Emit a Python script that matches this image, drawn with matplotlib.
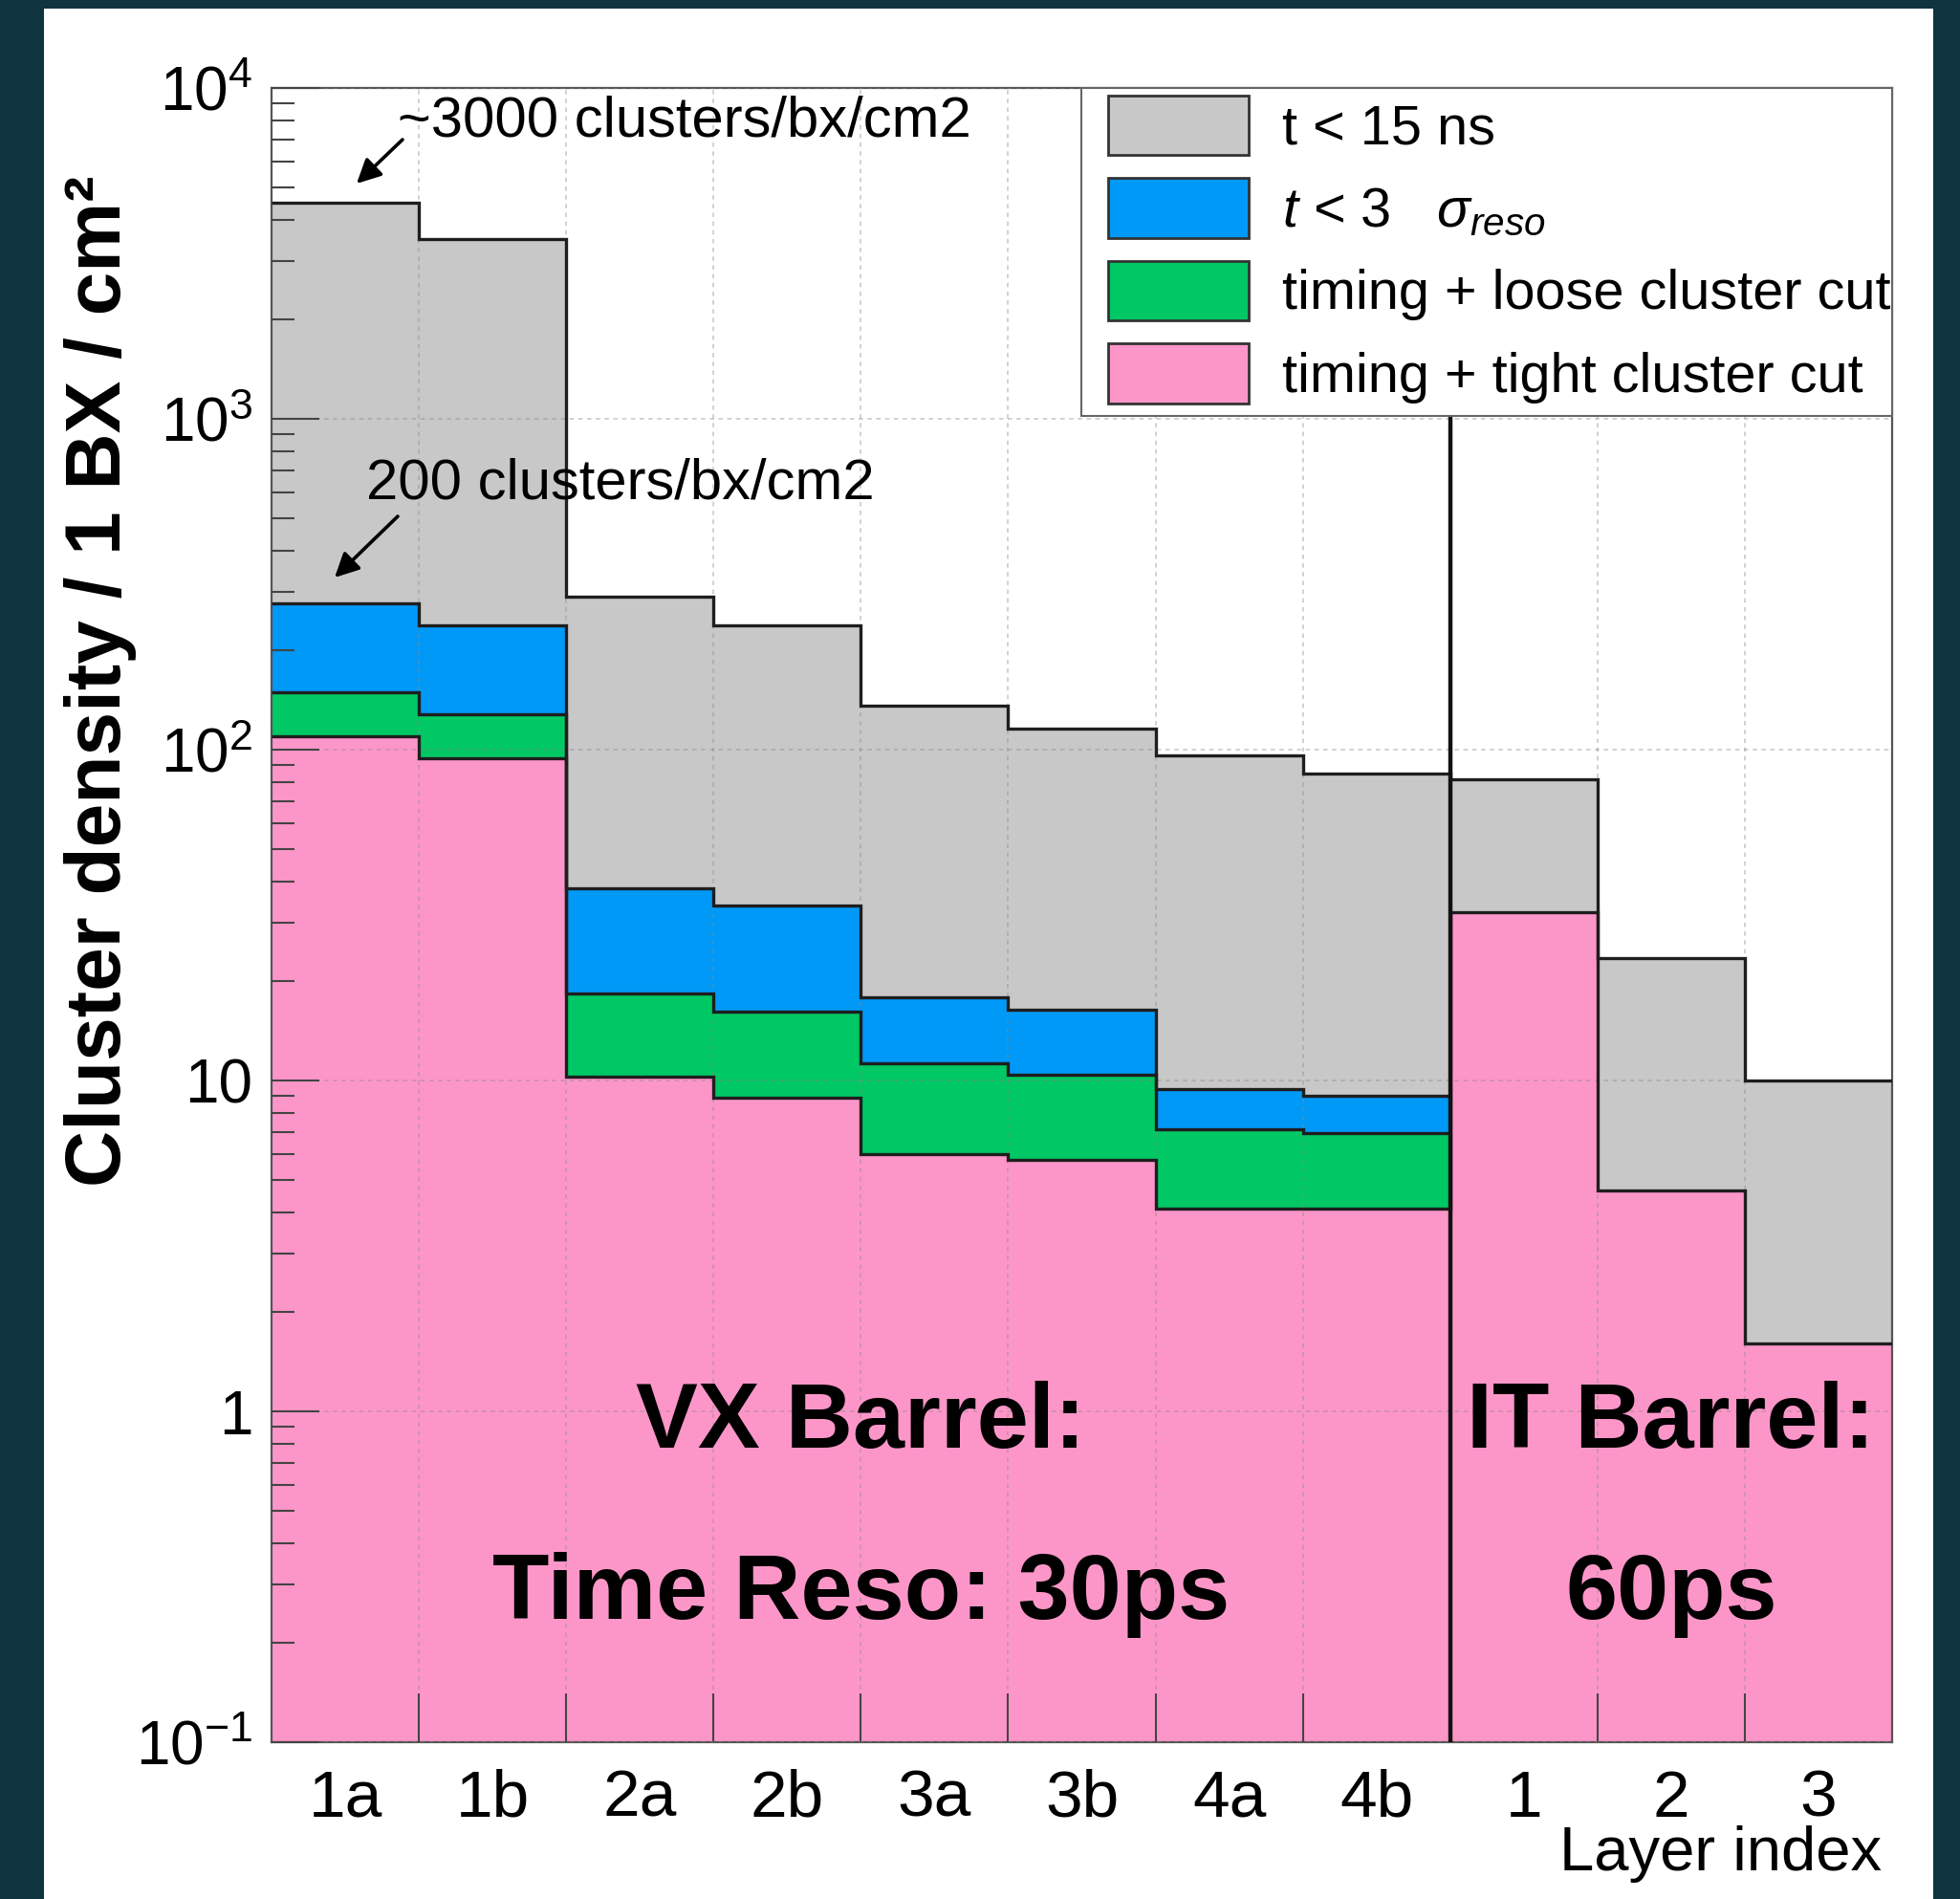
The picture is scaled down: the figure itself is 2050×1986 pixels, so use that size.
import numpy as np
import matplotlib

matplotlib.use("Agg")
import matplotlib.pyplot as plt
from matplotlib.patches import Patch, Rectangle, FancyArrowPatch
from matplotlib.ticker import LogLocator, NullFormatter

plt.rcParams.update({
    "font.family": ["Liberation Sans", "DejaVu Sans"],
    "mathtext.fontset": "custom",
    "mathtext.rm": "Liberation Sans",
    "mathtext.it": "Liberation Sans:italic",
    "mathtext.bf": "Liberation Sans:bold",
})

# ---- data ----
layers = ["1a", "1b", "2a", "2b", "3a", "3b", "4a", "4b", "1", "2", "3"]
n_vx = 8  # first 8 layers: VX barrel, last 3: IT barrel

t_15ns = [4500, 3500, 290, 238, 136, 116, 96, 84.5, 81.5, 23.4, 10.0]
t_3sigma_vx = [276, 238, 38.1, 33.7, 17.9, 16.4, 9.44, 9.0]
loose_vx = [149, 128, 18.3, 16.2, 11.3, 10.4, 7.14, 6.92]
tight = [110, 94.2, 10.3, 8.9, 6.0, 5.75, 4.09, 4.09, 32.2, 4.66, 1.60]

labels = [
    "t < 15 ns",
    r"$t$ < 3   $\sigma_{reso}$",
    "timing + loose cluster cut",
    "timing + tight cluster cut",
]

# ---- style ----
BG = "#0f3440"
GRAY = "#c8c8c8"
BLUE = "#0099f7"
GREEN = "#00c864"
PINK = "#fd96c8"
EDGE = "#1e1e1e"

W, H = 2050, 1986


def fx(px):
    return px / W


def fy(py):
    return 1 - py / H


fig = plt.figure(figsize=(W / 100, H / 100), dpi=100, facecolor=BG)
fig.add_artist(Rectangle((fx(46), 0), fx(2022) - fx(46), fy(9), transform=fig.transFigure,
                         facecolor="white", edgecolor="none", zorder=0))

ax = fig.add_axes([fx(284), fy(1822), fx(1979) - fx(284), fy(92) - fy(1822)])
ax.set_yscale("log")
ax.set_ylim(0.1, 1e4)
ax.set_xlim(0, len(layers))

edges = np.arange(len(layers) + 1)
series = [
    (t_15ns, GRAY),
    (t_3sigma_vx, BLUE),
    (loose_vx, GREEN),
    (tight, PINK),
]
for i, (vals, col) in enumerate(series):
    e = edges[:len(vals) + 1]
    ax.stairs(vals, e, fill=True, baseline=0.1, facecolor=col, linewidth=0, zorder=1 + 0.1 * i)
    ax.stairs(vals, e, baseline=None, color=EDGE, linewidth=2.4, zorder=2.6 + 0.01 * i)

# separator between VX and IT barrel
ax.axvline(n_vx, color="#111111", lw=3.2, zorder=3)

# grid (dotted, drawn over the fills)
ax.set_axisbelow(False)
ax.grid(True, which="major", axis="y", color="#8a8a8a", alpha=0.5,
        linestyle=(0, (3, 3)), lw=1.1)
ax.grid(True, which="minor", axis="x", color="#8a8a8a", alpha=0.5,
        linestyle=(0, (3, 3)), lw=1.1)

# ticks
ax.set_yticks([0.1, 1, 10, 100, 1e3, 1e4])
ax.set_yticklabels([r"$10^{-1}$", "1", "10", r"$10^{2}$", r"$10^{3}$", r"$10^{4}$"])
ax.yaxis.set_minor_locator(LogLocator(base=10, subs=np.arange(2, 10)))
ax.yaxis.set_minor_formatter(NullFormatter())
ax.tick_params(axis="y", which="major", direction="in", length=36, width=1.5,
               color="#444444", labelsize=46, pad=14)
ax.tick_params(axis="y", which="minor", direction="in", length=17, width=1.5,
               color="#444444")

ax.set_xticks(edges[:-1] + 0.5)
ax.set_xticklabels(layers)
ax.set_xticks(edges[1:-1], minor=True)
ax.tick_params(axis="x", which="major", length=0, labelsize=50, pad=20)
ax.tick_params(axis="x", which="minor", direction="in", length=37, width=1.5,
               color="#444444")

for sp in ax.spines.values():
    sp.set_color("#555555")
    sp.set_linewidth(1.6)

# legend: own frame (ROOT TLegend look), entries placed inside it
fig.add_artist(Rectangle((fx(1131), fy(435)), fx(1979) - fx(1131), fy(92) - fy(435),
                         transform=fig.transFigure, facecolor="white",
                         edgecolor="#666666", linewidth=1.5, zorder=4))
handles = [Patch(facecolor=c, edgecolor="#333333", linewidth=2, label=l)
           for (_, c), l in zip(series, labels)]
leg = fig.legend(handles=handles, loc="upper right",
                 bbox_to_anchor=(fx(1986), fy(91)), bbox_transform=fig.transFigure,
                 borderaxespad=0, frameon=False, fontsize=41.5, handlelength=2.55,
                 handleheight=1.30, handletextpad=0.6, labelspacing=0.41,
                 borderpad=0.15)
leg.set_zorder(5)

# barrel labels
ax.text(n_vx / 2, 0.776, "VX Barrel:", ha="center", va="baseline",
        fontsize=70, fontweight="bold", zorder=4)
ax.text(n_vx / 2, 0.236, "Time Reso: 30ps", ha="center", va="baseline",
        fontsize=70, fontweight="bold", zorder=4)
ax.text((n_vx + len(layers)) / 2, 0.776, "IT Barrel:", ha="center", va="baseline",
        fontsize=70, fontweight="bold", zorder=4)
ax.text((n_vx + len(layers)) / 2, 0.236, "60ps", ha="center", va="baseline",
        fontsize=70, fontweight="bold", zorder=4)

# axis titles
fig.text(fx(105), fy(183), "Cluster density / 1 BX / cm²", rotation=90,
         ha="center", va="top", fontsize=59, fontweight="bold")
fig.text(fx(1968), fy(1939), "Layer index", ha="right", va="center", fontsize=47)

# slide annotations
fig.text(fx(416), fy(127), "~3000 clusters/bx/cm2", ha="left", va="center", fontsize=43)
fig.text(fx(383), fy(506), "200 clusters/bx/cm2", ha="left", va="center", fontsize=43)
arrow = dict(arrowstyle="-|>", lw=2.6, color="black", mutation_scale=38,
             shrinkA=0, shrinkB=0)
fig.add_artist(FancyArrowPatch((fx(421), fy(146)), (fx(373), fy(192)),
                               transform=fig.transFigure, **arrow))
fig.add_artist(FancyArrowPatch((fx(416), fy(540)), (fx(350), fy(604)),
                               transform=fig.transFigure, **arrow))

fig.savefig("out.png", dpi=100, facecolor=fig.get_facecolor())
